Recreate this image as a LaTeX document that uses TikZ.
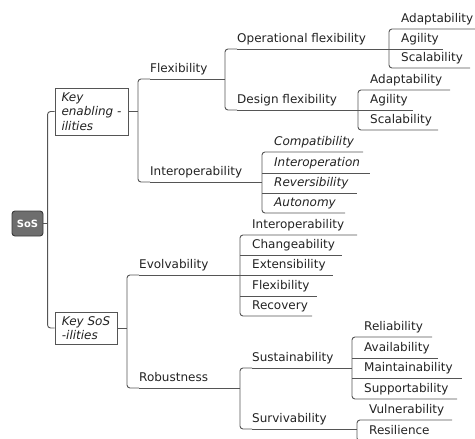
\documentclass[tikz,border=0pt]{standalone}
\usepackage{fontspec}
\setmainfont{DejaVu Sans}
\usetikzlibrary{calc}
\definecolor{linegray}{HTML}{555555}
\definecolor{rootgray}{HTML}{6E6E6E}
\definecolor{rootedge}{HTML}{3A3A3A}
\definecolor{textgray}{HTML}{222222}

\begin{document}
\begin{tikzpicture}[
        x=1pt, y=-1pt,
        link/.style={draw=linegray, line width=0.9pt},
        bracket/.style={link, rounded corners=3pt},
        leaf/.style={anchor=south west, inner xsep=0pt, inner ysep=3pt, text height=9pt, text depth=3pt, text=textgray, font=\fontsize{12}{14}\selectfont},
        ileaf/.style={leaf, font=\fontsize{12}{14}\selectfont\itshape},
        group/.style={draw=linegray, line width=0.9pt, fill=white, align=left, inner sep=0pt, text=textgray, font=\fontsize{12}{14.5}\selectfont\itshape},
        root/.style={draw=rootedge, line width=0.9pt, fill=rootgray, rounded corners=3pt, text=white, font=\fontsize{10}{12}\selectfont\bfseries, minimum width=31pt, minimum height=25pt, inner sep=0pt}
    ]
    \useasboundingbox (0,0) rectangle (475,439);
    % Nodes
    \node[root] (sos) at (27.5,223.5) {SoS};
    \node[group, minimum width=73pt, minimum height=47pt] (enab) at (91.5,111.5) {Key\\enabling -\\ilities};
    \node[group, minimum width=62pt, minimum height=32pt] (soskey) at (86,328) {Key SoS\\-ilities};
    \node[leaf] (flex) at (150,79) {Flexibility};
    \node[leaf] (interop) at (150,182) {Interoperability};
    \node[leaf] (evolv) at (139,275) {Evolvability};
    \node[leaf] (robust) at (139,388) {Robustness};
    \node[leaf] (opflex) at (237,49) {Operational flexibility};
    \node[leaf] (desflex) at (237,110) {Design flexibility};
    \node[leaf] (opAdapt) at (401,29) {Adaptability};
    \node[leaf] (opAgil) at (401,49) {Agility};
    \node[leaf] (opScal) at (401,68) {Scalability};
    \node[leaf] (dsAdapt) at (370,90) {Adaptability};
    \node[leaf] (dsAgil) at (370,110) {Agility};
    \node[leaf] (dsScal) at (370,130) {Scalability};
    \node[ileaf] (compat) at (274,152) {Compatibility};
    \node[ileaf] (ioper) at (274,173) {Interoperation};
    \node[ileaf] (revers) at (274,193) {Reversibility};
    \node[ileaf] (auton) at (274,213) {Autonomy};
    \node[leaf] (evInterop) at (252,235) {Interoperability};
    \node[leaf] (evChange) at (252,255) {Changeability};
    \node[leaf] (evExt) at (252,275) {Extensibility};
    \node[leaf] (evFlex) at (252,296) {Flexibility};
    \node[leaf] (evRecov) at (252,316) {Recovery};
    \node[leaf] (sustain) at (252,368) {Sustainability};
    \node[leaf] (surviv) at (252,429) {Survivability};
    \node[leaf] (reliab) at (364,337) {Reliability};
    \node[leaf] (avail) at (364,358) {Availability};
    \node[leaf] (maint) at (364,378) {Maintainability};
    \node[leaf] (support) at (364,399) {Supportability};
    \node[leaf] (vulner) at (369,420) {Vulnerability};
    \node[leaf] (resil) at (369,441) {Resilience};
    % Trunk
    \draw[link] (sos.east) -- ($(enab.west |- sos.east)+(-7,0)$);
    \draw[bracket] (enab.west) -- ++(-7,0) |- (soskey.west);
    % Key enabling -ilities
    \draw[link] (enab.east) -- ($(enab.east -| flex.south west)+(-12,0)$);
    \draw[bracket] (flex.south west) -| ($(interop.south west)+(-12,0)$) -- (interop.south west);
    \draw[link] (flex.south west) -- ($(flex.south west -| desflex.south west)+(-12,0)$);
    \draw[link] (interop.south west) -- ($(interop.south west -| compat.south west)+(-12,0)$);
    \draw[bracket] (opflex.south west) -| ($(desflex.south west)+(-12,0)$) -- (desflex.south west);
    \draw[link] (opflex.south west) -- ($(opflex.south west -| opAgil.south west)+(-12,0)$);
    \draw[link] (desflex.south west) -- ($(desflex.south west -| dsAgil.south west)+(-12,0)$);
    \draw[bracket] ($(opAdapt.south west)+(74,0)$) -- ($(opAdapt.south west)+(-12,0)$) |- ($(opScal.south west)+(69,0)$);
    \draw[link] ($(opAgil.south west)+(-12,0)$) -- ++(54,0);
    \draw[bracket] ($(dsAdapt.south west)+(80,0)$) -- ($(dsAdapt.south west)+(-12,0)$) |- ($(dsScal.south west)+(68,0)$);
    \draw[link] ($(dsAgil.south west)+(-12,0)$) -- ++(55,0);
    \draw[bracket] ($(compat.south west)+(89,0)$) -- ($(compat.south west)+(-12,0)$) |- ($(auton.south west)+(71,0)$);
    \draw[link] ($(ioper.south west)+(-12,0)$) -- ++(108,0);
    \draw[link] ($(revers.south west)+(-12,0)$) -- ++(95,0);
    % Key SoS -ilities
    \draw[link] (soskey.east) -- ($(soskey.east -| evolv.south west)+(-12,0)$);
    \draw[bracket] (evolv.south west) -| ($(robust.south west)+(-12,0)$) -- (robust.south west);
    \draw[link] (evolv.south west) -- ($(evolv.south west -| evExt.south west)+(-12,0)$);
    \draw[link] (robust.south west) -- ($(robust.south west -| sustain.south west)+(-12,0)$);
    \draw[bracket] ($(evInterop.south west)+(105,0)$) -- ($(evInterop.south west)+(-12,0)$) |- ($(evRecov.south west)+(60,0)$);
    \draw[link] ($(evChange.south west)+(-12,0)$) -- ++(102,0);
    \draw[link] ($(evExt.south west)+(-12,0)$) -- ++(93,0);
    \draw[link] ($(evFlex.south west)+(-12,0)$) -- ++(77,0);
    \draw[bracket] (sustain.south west) -| ($(surviv.south west)+(-12,0)$) -- (surviv.south west);
    \draw[link] (sustain.south west) -- ($(sustain.south west -| reliab.south west)+(-12,0)$);
    \draw[link] (surviv.south west) -- ($(surviv.south west -| vulner.south west)+(-12,0)$);
    \draw[bracket] ($(reliab.south west)+(68,0)$) -- ($(reliab.south west)+(-12,0)$) |- ($(support.south west)+(93,0)$);
    \draw[link] ($(avail.south west)+(-12,0)$) -- ++(86,0);
    \draw[link] ($(maint.south west)+(-12,0)$) -- ++(110,0);
    \draw[bracket] ($(vulner.south west)+(83,0)$) -- ($(vulner.south west)+(-12,0)$) |- ($(resil.south west)+(70,0)$);
\end{tikzpicture}
\end{document}
